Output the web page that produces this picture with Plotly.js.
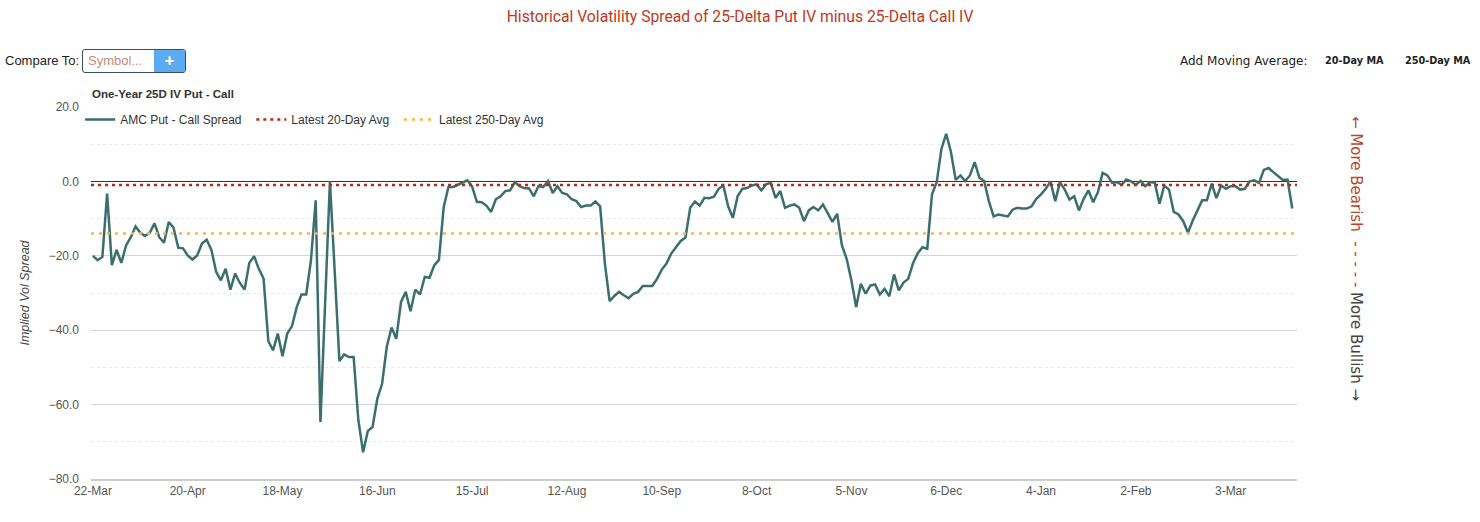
<!DOCTYPE html>
<html>
<head>
<meta charset="utf-8">
<script src="https://cdn.plot.ly/plotly-3.0.1.min.js"></script>
<style>
  html, body { margin: 0; padding: 0; background: #fff; }
  #wrap { position: relative; width: 1480px; height: 522px; overflow: hidden; font-family: Arial, "Liberation Sans", sans-serif; }
  #chart { position: absolute; left: 0; top: 0; width: 1480px; height: 522px; }
  .ctl { position: absolute; z-index: 5; }
  #cmpLbl { left: 5px; top: 52px; font-size: 13px; color: #222; line-height: 18px; }
  #cmpBox { left: 82px; top: 49px; width: 102px; height: 22px; border: 1px solid #3c4f5c; border-radius: 3px; overflow: hidden; background: #fff; }
  #cmpBox .ph { position: absolute; left: 5px; top: 3px; font-size: 13px; color: #c98b7e; }
  #cmpBox .btn { position: absolute; right: 0; top: 0; width: 31px; height: 22px; background: #5aabf0; color: #fff; font-size: 17px; font-weight: bold; text-align: center; line-height: 22px; }
  #maLbl { left: 1180px; top: 52px; font-size: 12px; color: #222; font-family: "DejaVu Sans", Verdana, sans-serif; line-height: 18px; }
  .ma { top: 54px; font-size: 9.7px; font-weight: bold; color: #222; font-family: "DejaVu Sans", Verdana, sans-serif; line-height: 14px; }
</style>
</head>
<body>
<div id="wrap">
  <div id="chart"></div>
  <div class="ctl" id="cmpLbl">Compare To:</div>
  <div class="ctl" id="cmpBox"><span class="ph">Symbol...</span><span class="btn">+</span></div>
  <div class="ctl" id="maLbl">Add Moving Average:</div>
  <div class="ctl ma" style="left:1325px">20-Day MA</div>
  <div class="ctl ma" style="left:1405px">250-Day MA</div>
</div>
<script>
// ---- data (trading-day index 0..253, 22-Mar to ~21-Mar next year) ----
const spread = [
  -20, -21.2, -20.3, -3.3, -22.5, -18.4, -21.9, -17.2, -15, -12.1,
  -13.8, -14.7, -13.8, -11.3, -15, -16.5, -10.9, -12.4, -17.8, -18,
  -19.9, -21, -19.9, -16.7, -15.7, -18.4, -24.3, -26.6, -23.5, -29.1,
  -24.8, -27.3, -29.1, -21.9, -20.1, -23.5, -26.1, -42.9, -45.4, -40.9,
  -47, -40.9, -38.9, -33.8, -30.4, -30.4, -21.2, -5.1, -64.7, -33,
  0, -24, -48.3, -46.5, -47.2, -47.2, -64.2, -72.8, -67.1, -66,
  -58.4, -54.4, -44.4, -39.3, -42.3, -32.4, -29.7, -34.9, -29.1, -30.4,
  -25.7, -25.9, -22.6, -21.1, -6.9, -1.5, -1.5, -0.9, -0.2, 0.3,
  -1.4, -5.5, -5.6, -6.5, -8.2, -4.8, -4.0, -2.6, -2.4, -0.2,
  -1.3, -1.8, -1.9, -4.0, -1.2, -1.5, 0.1, -3.1, -1.3, -3.1,
  -3.5, -4.8, -5.3, -6.9, -6.5, -6.5, -5.4, -6.7, -22.1, -32.2,
  -30.8, -29.7, -30.6, -31.4, -30.2, -29.7, -28.1, -28.0, -28.1, -26.2,
  -23.7, -22.1, -19.4, -17.7, -16.0, -15.1, -7.1, -5.4, -6.5, -4.4,
  -4.5, -4.1, -2.0, -1.1, -6.7, -9.8, -4.0, -2.0, -1.8, -1.1,
  -0.8, -2.4, -0.8, -0.4, -4.4, -2.6, -7.1, -6.5, -6.2, -7.1,
  -10.7, -7.8, -6.9, -7.8, -6.2, -8.5, -10.9, -8.7, -17.2, -20.8,
  -26.6, -33.8, -27.5, -30.2, -28, -27.7, -30.4, -28.9, -30.9, -25,
  -29.3, -27.2, -26.2, -22, -19.3, -17.7, -18.1, -3.5, -0.2, 8.8,
  12.8, 7.9, 0.4, 1.6, 0.1, 1.6, 5.2, 1.0, 0.1, -5.3,
  -9.4, -8.9, -9.1, -9.4, -7.6, -7.1, -7.3, -7.3, -6.7, -4.7,
  -3.5, -2.0, 0, -5.3, -0.2, -2.2, -4.9, -4.0, -7.8, -4.7,
  -2.4, -5.6, -2.9, 2.3, 1.6, -0.4, -0.2, -0.9, 0.5, 0,
  -0.9, 0.1, -1.3, -0.2, -0.4, -6.0, -1.1, -2.2, -8.2, -8.9,
  -10.7, -13.8, -10.5, -7.6, -5.1, -5.1, -0.6, -4.5, -1.1, -2.0,
  -1.3, -1.3, -2.2, -2.0, 0, 0.3, -0.4, 3.1, 3.6, 2.5,
  1.4, 0.4, 0.5, -7.3
];
const tickDays   = [0, 20, 40, 60, 80, 100, 120, 140, 160, 180, 200, 220, 240];
const tickLabels = ["22-Mar", "20-Apr", "18-May", "16-Jun", "15-Jul", "12-Aug", "10-Sep",
                    "8-Oct", "5-Nov", "6-Dec", "4-Jan", "2-Feb", "3-Mar"];
const latest20DayAvg  = -1.0;
const latest250DayAvg = -14.0;
const yTicks = [20, 0, -20, -40, -60, -80];

const xIdx = spread.map((_, i) => i);
const xRange = [-0.4, 254];
const gap = '\u2009\u2009';

const traces = [
  {
    x: xIdx, y: spread, type: 'scatter', mode: 'lines',
    name: 'AMC Put - Call Spread' + gap,
    line: { color: '#3b6f6e', width: 2.5 }
  },
  {
    x: xRange, y: [latest20DayAvg, latest20DayAvg], type: 'scatter', mode: 'lines',
    name: 'Latest 20-Day Avg' + gap,
    line: { color: '#b8290f', width: 2.5, dash: '3px,4px' }
  },
  {
    x: xRange, y: [latest250DayAvg, latest250DayAvg], type: 'scatter', mode: 'lines',
    name: 'Latest 250-Day Avg',
    line: { color: '#f8b548', width: 2.5, dash: '3px,5px' }
  }
];

const layout = {
  width: 1480, height: 522,
  margin: { l: 91, r: 183, t: 107, b: 43 },
  paper_bgcolor: '#fff', plot_bgcolor: '#fff',
  font: { family: 'Arial, "Liberation Sans", sans-serif', size: 12, color: '#555' },
  title: {
    text: 'Historical Volatility Spread of 25-Delta Put IV minus 25-Delta Call IV',
    font: { family: 'Roboto, Arial, sans-serif', size: 15.7, color: '#c2381e' },
    x: 0.5, xanchor: 'center', y: 1 - 17 / 522, yanchor: 'middle', yref: 'container'
  },
  showlegend: true,
  legend: {
    orientation: 'h', x: -0.009, xanchor: 'left', y: 1 + 2 / 372, yanchor: 'top',
    font: { size: 12, color: '#333' }, bgcolor: 'rgba(0,0,0,0)'
  },
  xaxis: {
    range: xRange, tickmode: 'array', tickvals: tickDays, ticktext: tickLabels,
    showgrid: false, zeroline: false, showline: true, linecolor: '#ccc', linewidth: 1.5,
    ticks: '', tickfont: { size: 12, color: '#555' }
  },
  yaxis: {
    range: [-80, 20], tickmode: 'array', tickvals: yTicks, tickformat: '.1f',
    showgrid: true, gridcolor: '#d6d6d6', gridwidth: 1,
    minor: { dtick: 10, showgrid: true, gridcolor: '#e8e8e8', griddash: 'dot', gridwidth: 1 },
    zeroline: true, zerolinecolor: '#333', zerolinewidth: 1.5,
    showline: false, ticks: '', ticklabelstandoff: 11,
    tickfont: { size: 12, color: '#555' },
    title: { text: 'Implied Vol Spread', standoff: 16,
             font: { size: 12.5, color: '#444', style: 'italic' } }
  },
  annotations: [
    {
      xref: 'paper', yref: 'paper', x: -0.001, y: 1 + 13 / 372, xanchor: 'left', yanchor: 'middle',
      text: '<b>One-Year 25D IV Put - Call</b>', showarrow: false,
      font: { size: 11.5, color: '#333' }
    },
    {
      xref: 'paper', yref: 'paper', x: (1356 - 91) / 1206, y: (479 - 258) / 372,
      xanchor: 'center', yanchor: 'middle', textangle: 90, showarrow: false,
      text: '<span style="color:#b5472c">← More Bearish  - - - - - </span><span style="color:#444">More Bullish →</span>',
      font: { family: '"DejaVu Sans", Verdana, sans-serif', size: 15, color: '#444' }
    }
  ]
};

Plotly.newPlot('chart', traces, layout, { displayModeBar: false, staticPlot: true });
</script>
</body>
</html>
